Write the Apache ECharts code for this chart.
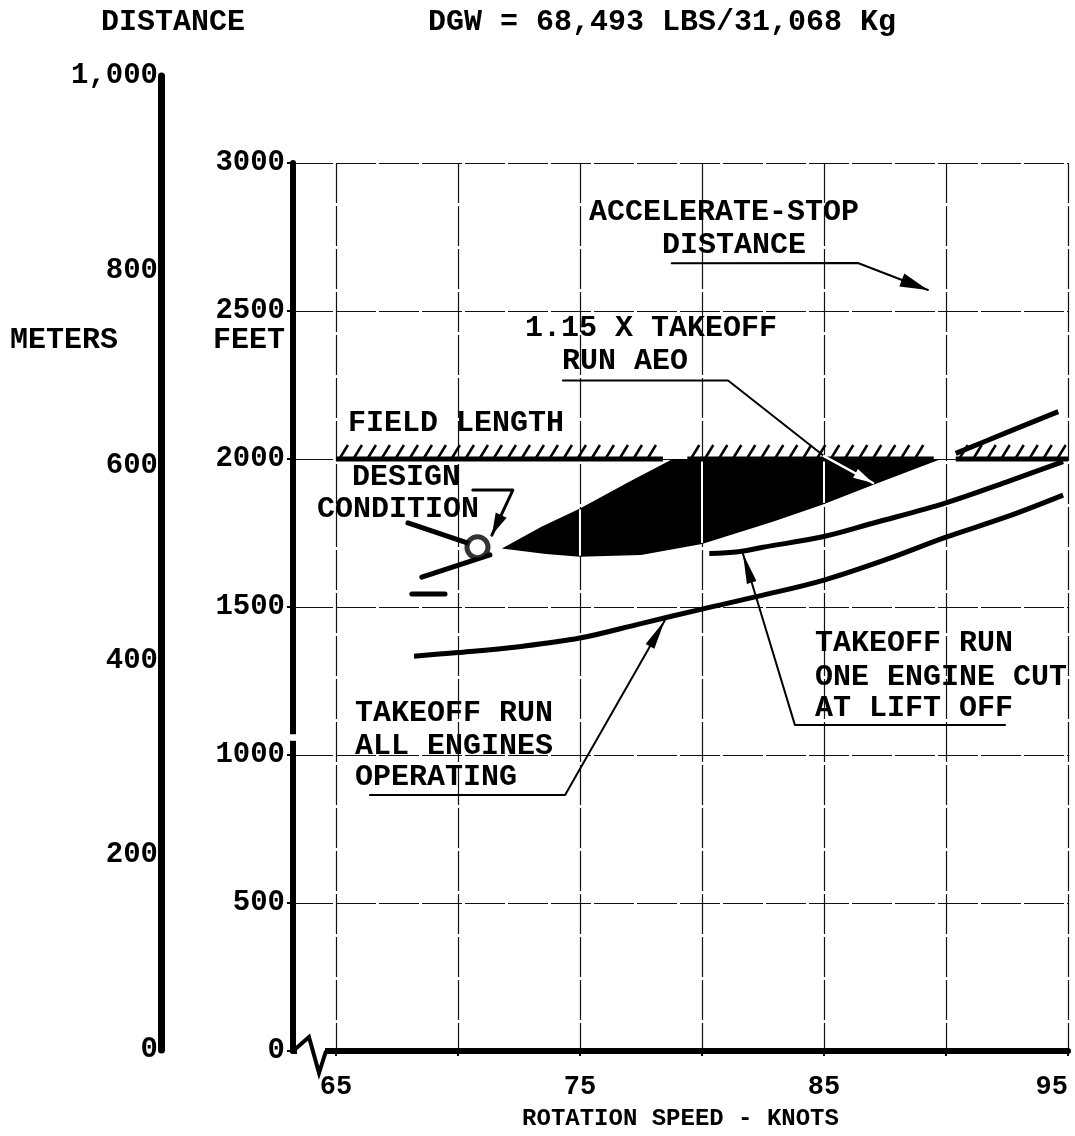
<!DOCTYPE html>
<html>
<head>
<meta charset="utf-8">
<script src="https://cdn.jsdelivr.net/npm/echarts@6/dist/echarts.min.js"></script>
<style>
  html, body { margin: 0; padding: 0; background: #fff; }
  #chart { width: 1075px; height: 1136px; }
</style>
</head>
<body>
<div id="chart"></div>
<script>
// ---- axes ----
const speedTicks = [65, 70, 75, 80, 85, 90, 95];      // knots, grid lines
const speedLabels = [65, 75, 85, 95];                 // knots, labelled
const feetInterval = 500;
const meterInterval = 200;

// ---- curves: [rotation speed (knots), distance (feet)] ----
const takeoffRunAEO = [[68.2, 1334], [70, 1346], [72.5, 1366], [75, 1395], [77.5, 1444], [80, 1493],
  [82.5, 1540], [85, 1591], [87.5, 1659], [90, 1736], [92.5, 1805], [94.8, 1878]];
const takeoffRunOEI = [[80.3, 1681], [81.5, 1687], [82.5, 1702], [85, 1738], [87, 1783], [90, 1852],
  [92.5, 1923], [94.8, 1991]];
const takeoffRunAEO115 = [[71.8, 1698], [73.6, 1679], [75, 1670], [77.5, 1676], [80, 1713], [82.9, 1788],
  [84.9, 1845], [87, 1912], [89.8, 2000], [90.4, 2019], [92.5, 2090], [94.6, 2160]];
const accelerateStop = [[71.8, 1698], [73.4, 1770], [75, 1833], [77, 1922], [78.8, 2000]];
const fieldLength = 2000;
const fieldLengthSpans = [[65, 78.4], [79.4, 89.5], [90.4, 95]];
const designCondition = [70.8, 1702];

// ---- annotation leaders ----
const leaders = [
  { path: [[78.76, 2661], [86.39, 2662], [89.26, 2571]], color: '#000', width: 2, arrow: [28, 7] },
  { path: [[74.3, 2265], [81.07, 2265], [85.0, 2010]], color: '#000', width: 2, arrow: null },
  { path: [[85.0, 2010], [87.01, 1919]], color: '#fff', width: 2.5, arrow: [20, 5] },
  { path: [[92.42, 1101], [83.81, 1101], [81.68, 1680]], color: '#000', width: 2, arrow: [30, 5] },
  { path: [[66.39, 865], [74.39, 865], [78.48, 1455]], color: '#000', width: 2, arrow: [30, 5] },
  { path: [[70.61, 1895], [72.25, 1895], [71.39, 1743]], color: '#000', width: 3, arrow: [22, 6] },
  { path: [[67.95, 1784], [70.41, 1716]], color: '#000', width: 5, arrow: null },
  { path: [[68.52, 1601], [71.31, 1676]], color: '#000', width: 5, arrow: null },
  { path: [[68.11, 1544], [69.47, 1544]], color: '#000', width: 5, arrow: null }
];

// ---- free text ----
const texts = [
  { t: 'DISTANCE', x: 101, y: 22, a: 'left' },
  { t: 'DGW = 68,493 LBS/31,068 Kg', x: 428, y: 22, a: 'left' },
  { t: 'METERS', x: 10, y: 340, a: 'left' },
  { t: 'FEET', x: 213, y: 340, a: 'left' },
  { t: 'ACCELERATE-STOP', x: 724, y: 212, a: 'center' },
  { t: 'DISTANCE', x: 734, y: 245, a: 'center' },
  { t: '1.15 X TAKEOFF', x: 525, y: 328, a: 'left' },
  { t: 'RUN AEO', x: 562, y: 361, a: 'left' },
  { t: 'FIELD LENGTH', x: 348, y: 423, a: 'left' },
  { t: 'DESIGN', x: 352, y: 477, a: 'left' },
  { t: 'CONDITION', x: 317, y: 509, a: 'left' },
  { t: 'TAKEOFF RUN', x: 815, y: 643, a: 'left' },
  { t: 'ONE ENGINE CUT', x: 815, y: 677, a: 'left' },
  { t: 'AT LIFT OFF', x: 815, y: 708, a: 'left' },
  { t: 'TAKEOFF RUN', x: 355, y: 713, a: 'left' },
  { t: 'ALL ENGINES', x: 355, y: 746, a: 'left' },
  { t: 'OPERATING', x: 355, y: 777, a: 'left' }
];

const FONT = '"Liberation Mono", "Courier New", monospace';
const SPEED_MIN = 63.24;
const SPEED_MAX = 95;
const gridLineStyle = { color: '#111', width: 1.2, type: [40, 3] };

function interp(arr, k) {
  for (let i = 0; i < arr.length - 1; i++) {
    const a = arr[i], b = arr[i + 1];
    if (k >= a[0] && k <= b[0]) return a[1] + (b[1] - a[1]) * (k - a[0]) / (b[0] - a[0]);
  }
  return null;
}

function arrowHead(p, q, len, hw) {
  const dx = p[0] - q[0], dy = p[1] - q[1];
  const d = Math.hypot(dx, dy) || 1;
  const ux = dx / d, uy = dy / d, nx = -uy, ny = ux;
  return [p, [p[0] - ux * len + nx * hw, p[1] - uy * len + ny * hw], [p[0] - ux * len - nx * hw, p[1] - uy * len - ny * hw]];
}

const chart = echarts.init(document.getElementById('chart'), null, { renderer: 'canvas' });

const option = {
  animation: false,
  backgroundColor: '#fff',
  textStyle: { fontFamily: FONT },
  grid: [
    { left: 293, right: 7, top: 163, bottom: 85 },
    { left: 161, width: 1, top: 76, bottom: 86 }
  ],
  xAxis: [
    {
      gridIndex: 0, type: 'value', min: SPEED_MIN, max: SPEED_MAX,
      axisLine: { show: true, onZero: false, lineStyle: { color: '#000', width: 6 } },
      axisTick: { show: true, customValues: speedTicks, length: 5, lineStyle: { color: '#000', width: 2 } },
      axisLabel: { customValues: speedLabels, margin: 23, fontFamily: FONT, fontWeight: 'bold', fontSize: 27,
        color: '#000', alignMaxLabel: 'right' },
      splitLine: { show: true, lineStyle: gridLineStyle },
      name: 'ROTATION SPEED - KNOTS', nameLocation: 'middle', nameGap: 56,
      nameTextStyle: { fontFamily: FONT, fontWeight: 'bold', fontSize: 24, color: '#000' }
    },
    { gridIndex: 1, type: 'value', min: 0, max: 1, show: false }
  ],
  yAxis: [
    {
      gridIndex: 0, type: 'value', min: 0, max: 3000, interval: feetInterval,
      axisLine: { show: true, onZero: false, lineStyle: { color: '#000', width: 6 } },
      axisTick: { show: true, length: 6, lineStyle: { color: '#000', width: 2 } },
      axisLabel: { margin: 8, fontFamily: FONT, fontWeight: 'bold', fontSize: 29, color: '#000',
        formatter: v => String(v) },
      splitLine: { show: true, lineStyle: gridLineStyle }
    },
    {
      gridIndex: 1, type: 'value', min: 0, max: 1000, interval: meterInterval,
      axisLine: { show: true, onZero: false, lineStyle: { color: '#000', width: 7 } },
      axisTick: { show: false },
      axisLabel: { margin: 3, fontFamily: FONT, fontWeight: 'bold', fontSize: 29, color: '#000',
        formatter: v => v.toLocaleString('en-US') },
      splitLine: { show: false }
    }
  ],
  series: [
    // shaded band between accelerate-stop distance, field length and 1.15 x takeoff run
    {
      type: 'custom', xAxisIndex: 0, yAxisIndex: 0, z: 3,
      data: [designCondition],
      renderItem: (params, api) => {
        const lower = takeoffRunAEO115.filter(p => p[1] <= fieldLength);
        const pts = accelerateStop.map(p => api.coord(p))
          .concat(lower.slice().reverse().map(p => api.coord(p)));
        const children = [{ type: 'polygon', shape: { points: pts }, style: { fill: '#000' } }];
        const kMin = accelerateStop[0][0], kMax = lower[lower.length - 1][0];
        speedTicks.forEach(k => {
          if (k <= kMin || k >= kMax) return;
          const top = interp(accelerateStop, k);
          const t = top === null ? fieldLength : Math.min(top, fieldLength);
          const b = interp(lower, k);
          const p1 = api.coord([k, t]), p2 = api.coord([k, b]);
          children.push({ type: 'line', shape: { x1: p1[0], y1: p1[1] + 1, x2: p2[0], y2: p2[1] - 1 },
            style: { stroke: '#fff', lineWidth: 2 } });
        });
        return { type: 'group', children };
      }
    },
    // field length with hatching
    {
      type: 'custom', xAxisIndex: 0, yAxisIndex: 0, z: 4,
      data: fieldLengthSpans.map(s => [s[0], s[1]]),
      renderItem: (params, api) => {
        const p0 = api.coord([api.value(0), fieldLength]);
        const p1 = api.coord([api.value(1), fieldLength]);
        const children = [{ type: 'line', shape: { x1: p0[0], y1: p0[1], x2: p1[0], y2: p1[1] },
          style: { stroke: '#000', lineWidth: 5 } }];
        for (let x = p0[0] + 8; x < p1[0] - 4; x += 14) {
          children.push({ type: 'line', shape: { x1: x - 4, y1: p0[1] - 1, x2: x + 4, y2: p0[1] - 14 },
            style: { stroke: '#000', lineWidth: 2.5 } });
        }
        return { type: 'group', children };
      }
    },
    {
      name: 'TAKEOFF RUN ALL ENGINES OPERATING', type: 'line', z: 5,
      data: takeoffRunAEO, smooth: 0.35, symbol: 'none',
      lineStyle: { color: '#000', width: 5 }
    },
    {
      name: 'TAKEOFF RUN ONE ENGINE CUT AT LIFT OFF', type: 'line', z: 5,
      data: takeoffRunOEI, smooth: 0.35, symbol: 'none',
      lineStyle: { color: '#000', width: 5 }
    },
    {
      name: '1.15 X TAKEOFF RUN AEO', type: 'line', z: 5,
      data: takeoffRunAEO115.filter(p => p[1] > fieldLength), smooth: 0.3, symbol: 'none',
      lineStyle: { color: '#000', width: 5 }
    },
    // annotation leaders
    {
      type: 'custom', xAxisIndex: 0, yAxisIndex: 0, z: 6,
      data: leaders.map(l => l.path[l.path.length - 1]),
      renderItem: (params, api) => {
        const L = leaders[params.dataIndex];
        const pts = L.path.map(p => api.coord(p));
        const children = [{ type: 'polyline', shape: { points: pts },
          style: { stroke: L.color, lineWidth: L.width, fill: null, lineCap: 'round', lineJoin: 'round' } }];
        if (L.arrow) {
          const n = pts.length;
          children.push({ type: 'polygon', shape: { points: arrowHead(pts[n - 1], pts[n - 2], L.arrow[0], L.arrow[1]) },
            style: { fill: L.color } });
        }
        return { type: 'group', children };
      }
    },
    {
      name: 'DESIGN CONDITION', type: 'scatter', z: 7,
      data: [designCondition], symbol: 'circle', symbolSize: 21,
      itemStyle: { color: '#fff', borderColor: '#000', borderWidth: 5 }
    },
    // axis breaks: gap in the feet scale and zigzag at the origin
    {
      type: 'custom', xAxisIndex: 0, yAxisIndex: 0, z: 8,
      data: [[SPEED_MIN, 0]],
      renderItem: (params, api) => {
        const o = api.coord([SPEED_MIN, 0]);
        const g1 = api.coord([SPEED_MIN, 1070]);
        const g2 = api.coord([SPEED_MIN, 1048]);
        return {
          type: 'group', children: [
            { type: 'rect', shape: { x: g1[0] - 6, y: g1[1], width: 12, height: g2[1] - g1[1] }, style: { fill: '#fff' } },
            { type: 'rect', shape: { x: o[0] + 4, y: o[1] - 5, width: 28, height: 10 }, style: { fill: '#fff' } },
            { type: 'polyline', shape: { points: [[o[0], o[1]], [o[0] + 16, o[1] - 14], [o[0] + 26, o[1] + 22], [o[0] + 33, o[1]]] },
              style: { stroke: '#000', lineWidth: 4, fill: null, lineJoin: 'miter' } }
          ]
        };
      }
    }
  ],
  graphic: texts.map(s => ({
    type: 'text', x: s.x, y: s.y, z: 100,
    style: {
      text: s.t, fill: '#000', align: s.a, verticalAlign: 'middle',
      font: 'bold 30px ' + FONT
    }
  }))
};

chart.setOption(option);
</script>
</body>
</html>
